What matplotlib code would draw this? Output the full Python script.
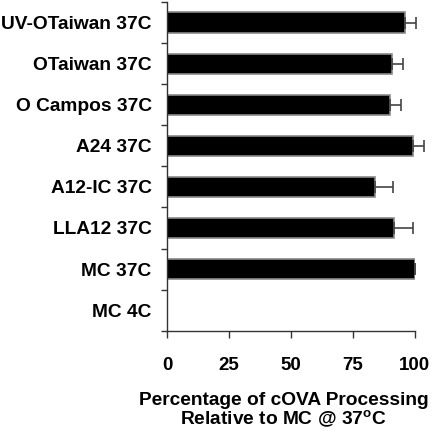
"""Horizontal bar chart of cOVA processing relative to MC at 37C."""

import matplotlib.pyplot as plt
from matplotlib.ticker import FixedLocator

plt.rcParams["font.family"] = ["Liberation Sans", "DejaVu Sans"]
plt.rcParams["font.weight"] = "bold"
plt.rcParams["mathtext.fontset"] = "custom"
plt.rcParams["mathtext.rm"] = "Liberation Sans:bold"

# top to bottom, as drawn
labels = ["UV-OTaiwan 37C", "OTaiwan 37C", "O Campos 37C", "A24 37C",
          "A12-IC 37C", "LLA12 37C", "MC 37C", "MC 4C"]
values = [96.2, 91.0, 90.2, 99.3, 84.2, 91.8, 100.0, 0.0]
errors = [4.5, 4.3, 4.4, 4.5, 7.1, 7.7, 0.4, 0.0]
xticks = [0, 25, 50, 75, 100]

n = len(labels)
ypos = [n - 1 - i for i in range(n)]

fig = plt.figure(figsize=(4.32, 4.32), dpi=100)
ax = fig.add_axes([167 / 432, 1 - 330.7 / 432, 247.5 / 432, 328.7 / 432])

widths = [1.2 if v > 0 else 0 for v in values]
ax.barh(ypos, values, height=0.49, color="black", edgecolor="#8a8a8a",
        linewidth=widths, zorder=2)

# no error bar drawn for the empty MC 4C row
keep = [i for i in range(n) if values[i] > 0]
ax.errorbar([values[i] for i in keep], [ypos[i] for i in keep],
            xerr=[[0] * len(keep), [errors[i] for i in keep]], fmt="none",
            ecolor="#444444", elinewidth=1.2, capsize=4, capthick=1.2,
            clip_on=False, zorder=3)

ax.set_xlim(0, 100)
ax.set_ylim(-0.5, n - 0.5)
ax.set_xticks(xticks)
ax.set_xticklabels([str(t) for t in xticks], fontsize=13.5, fontweight="bold")
ax.set_yticks(ypos)
ax.set_yticklabels(labels, fontsize=13.8, fontweight="bold")
ax.yaxis.set_minor_locator(FixedLocator([i - 0.5 for i in range(n + 1)]))
ax.tick_params(axis="y", which="major", length=0, pad=11)
ax.tick_params(axis="y", which="minor", length=4, width=1, color="#333333",
               direction="out")
ax.tick_params(axis="x", length=5, width=1, color="#333333", pad=14)

for side in ("top", "right"):
    ax.spines[side].set_visible(False)
for side in ("left", "bottom"):
    ax.spines[side].set_linewidth(1)
    ax.spines[side].set_color("#333333")

ax.set_xlabel("Percentage of cOVA Processing\nRelative to MC @ 37$^{\\mathrm{o}}$C",
              fontsize=13.8, fontweight="bold", linespacing=1.0)
ax.xaxis.set_label_coords(0.47, -0.185)

fig.savefig("out.png", dpi=100)
